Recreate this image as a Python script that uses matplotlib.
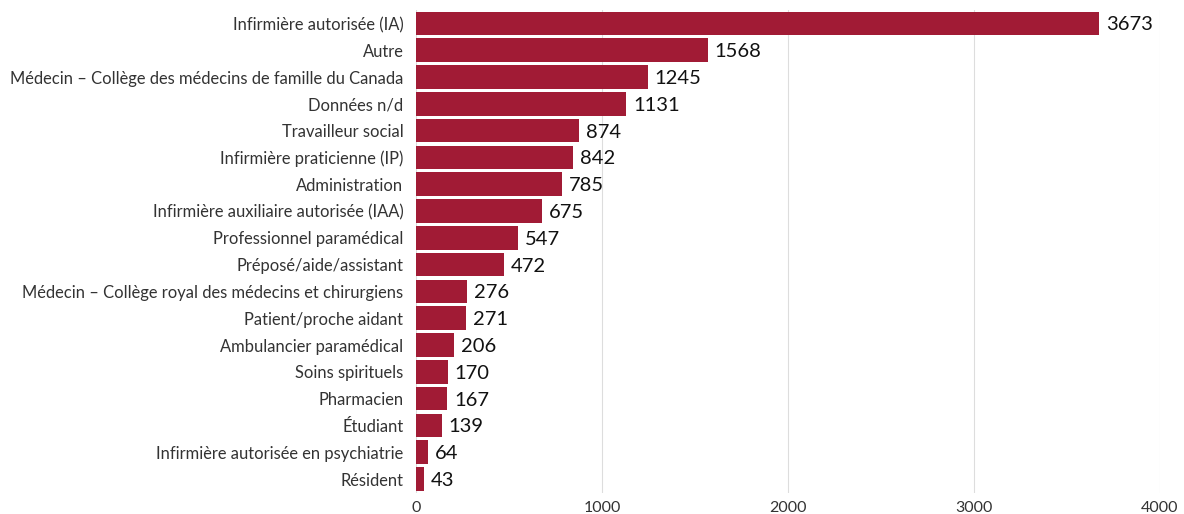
import matplotlib
matplotlib.use("Agg")
import matplotlib.pyplot as plt

categories = [
    "Infirmière autorisée (IA)",
    "Autre",
    "Médecin – Collège des médecins de famille du Canada",
    "Données n/d",
    "Travailleur social",
    "Infirmière praticienne (IP)",
    "Administration",
    "Infirmière auxiliaire autorisée (IAA)",
    "Professionnel paramédical",
    "Préposé/aide/assistant",
    "Médecin – Collège royal des médecins et chirurgiens",
    "Patient/proche aidant",
    "Ambulancier paramédical",
    "Soins spirituels",
    "Pharmacien",
    "Étudiant",
    "Infirmière autorisée en psychiatrie",
    "Résident",
]
values = [3673, 1568, 1245, 1131, 874, 842, 785, 675, 547, 472, 276, 271, 206, 170, 167, 139, 64, 43]
xticks = [0, 1000, 2000, 3000, 4000]

plt.rcParams['font.family'] = ['Lato', 'DejaVu Sans']

fig = plt.figure(figsize=(11.84, 5.14), dpi=100)
ax = fig.add_axes([416/1184, 1 - 492.5/514, (1160-416)/1184, (492.5-10)/514])

pos = list(range(len(categories)))
ax.barh(pos, values, height=0.88, color="#A11B35", zorder=2)
for p, v in zip(pos, values):
    ax.annotate(str(v), (v, p), xytext=(5, -1), textcoords="offset points",
                va="center", ha="left", fontsize=14.5, color="#111111", zorder=3)

ax.set_yticks(pos)
ax.set_yticklabels(categories, fontsize=11.9, color="#333333")
ax.set_ylim(len(categories) - 0.5, -0.5)
ax.set_xlim(0, 4000)
ax.set_xticks(xticks)
ax.set_xticklabels([str(t) for t in xticks], fontsize=11.5, color="#333333")
ax.tick_params(axis="both", length=0)
ax.tick_params(axis="y", pad=9)
ax.tick_params(axis="x", pad=6)
ax.grid(axis="x", color="#dddddd", linewidth=0.8, zorder=0)
for s in ax.spines.values():
    s.set_visible(False)

fig.savefig("out.png", dpi=100)
